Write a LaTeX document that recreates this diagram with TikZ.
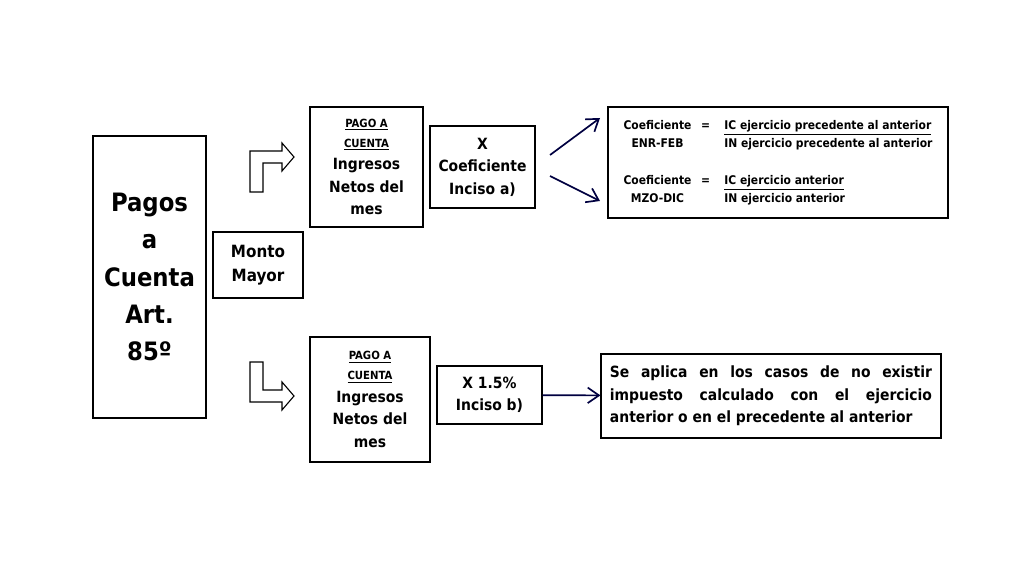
\documentclass[tikz,border=0pt]{standalone}
\usepackage{fontspec}
\setmainfont{DejaVu Sans Condensed}
\usetikzlibrary{arrows.meta}

\tikzset{
  box/.style={draw,thick,align=center,font=\bfseries,inner sep=2pt},
  bent/.style={draw,thick,fill=white,line join=miter},
  link/.style={very thick,draw=blue!25!black,-{Straight Barb[length=8pt,width=11pt]}}
}

\begin{document}
\begin{tikzpicture}[x=0.025cm,y=-0.025cm]
\useasboundingbox (0,0) rectangle (1024,576);
% left column
\node [box,minimum width=113*0.025cm,minimum height=282*0.025cm,font=\bfseries\fontsize{18}{26.5}\selectfont] (pagos) at (149.5,277)
    {Pagos\\a\\Cuenta\\Art.\\85º};
\node [box,minimum width=90*0.025cm,minimum height=66*0.025cm,font=\bfseries\fontsize{12}{17}\selectfont] (monto) at (258,265) {Monto\\Mayor};
% bent arrows
\draw [bent] (250,192) -- (250,151) -- (282,151) -- (282,143) -- (294,157) -- (282,171) -- (282,163) -- (263,163) -- (263,192) -- cycle;
\draw [bent] (250,362) -- (250,402) -- (282,402) -- (282,410) -- (294,396) -- (282,382) -- (282,390) -- (263,390) -- (263,362) -- cycle;
% upper branch
\node [box,minimum width=113*0.025cm,minimum height=120*0.025cm,font=\bfseries\fontsize{11}{16}\selectfont] (pagoA) at (366.5,167)
    {{\fontsize{8}{11}\selectfont\underline{PAGO A}}\\[-2pt]{\fontsize{8}{11}\selectfont\underline{CUENTA}}\\Ingresos\\Netos del\\mes};
\node [box,minimum width=105*0.025cm,minimum height=82*0.025cm,font=\bfseries\fontsize{11}{16}\selectfont] (coefA) at (482.5,167) {X\\Coeficiente\\Inciso a)};
\node [box,minimum width=340*0.025cm,minimum height=111*0.025cm,font=\bfseries\fontsize{8.5}{12.8}\selectfont] (formA) at (778,162.5)
    {\begin{tabular}{@{}c@{\hspace{0.8em}}c@{\hspace{1.2em}}l@{}}
     Coeficiente & = & \underline{IC ejercicio precedente al anterior}\\
     ENR-FEB & & IN ejercicio precedente al anterior\\[14pt]
     Coeficiente & = & \underline{IC ejercicio anterior}\\
     MZO-DIC & & IN ejercicio anterior
     \end{tabular}};
\coordinate (up) at (600,118);
\coordinate (down) at (600,201);
\draw [link] (550,155) -- (up);
\draw [link] (550,176) -- (down);
% lower branch
\node [box,minimum width=120*0.025cm,minimum height=125*0.025cm,font=\bfseries\fontsize{11}{16}\selectfont] (pagoB) at (370,399.5)
    {{\fontsize{8}{11}\selectfont\underline{PAGO A}}\\[-2pt]{\fontsize{8}{11}\selectfont\underline{CUENTA}}\\Ingresos\\Netos del\\mes};
\node [box,minimum width=105*0.025cm,minimum height=58*0.025cm,font=\bfseries\fontsize{11}{16}\selectfont] (coefB) at (489.5,395) {X 1.5\%\\Inciso b)};
\node [box,minimum width=340*0.025cm,minimum height=84*0.025cm,font=\bfseries\fontsize{11}{16}\selectfont,align=left] (casos) at (771,396)
    {\makebox[8.05cm][s]{Se aplica en los casos de no existir}\\
     \makebox[8.05cm][s]{impuesto calculado con el ejercicio}\\
     anterior o en el precedente al anterior};
\draw [link] (coefB) -- (casos);
\end{tikzpicture}
\end{document}
